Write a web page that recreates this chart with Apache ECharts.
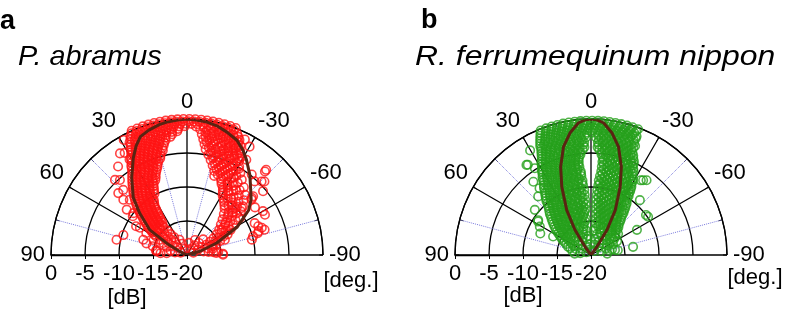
<!doctype html>
<html lang="en">
  <head>
    <meta charset="UTF-8" />
    <title>Beam patterns</title>
    <script src="https://cdn.jsdelivr.net/npm/echarts@6/dist/echarts.min.js"></script>
    <style>
      html, body { margin: 0; padding: 0; background: #fff; }
      #chart { width: 786px; height: 314px; }
    </style>
  </head>
  <body>
    <div id="chart"></div>
    <script>
      // Axis values
      var dbTicks = [-20, -15, -10, -5, 0];
      var angleTicks = [90, 60, 30, 0, -30, -60, -90];

      // Panel a, P. abramus: [dB, angle] with angle positive to the left
      // rows of points: [dB, [angles...]]
      var abramusRows = [
        [0.6, [16, 13.5, 11, 8.5, 6, 3.5, 1, -1.5, -4, -6.5, -9, -11.5, -14]],
        [0.3, [22, 19.5, 17, 14.5, 12, 9.5, 7, 4.5, 2, -0.5, -3, -5.5, -8, -10.5, -13, -15.5, -18]],
        [0.0, [24, 21.5, 19, 16.5, 14, 11.5, 9, 6.5, 4, 1.5, -1, -3.5, -6, -8.5, -11, -13.5, -16, -18.5, -21]],
        [-0.35, [24.5, 22, 19.5, 17, 14.5, 12, 9.5, 7, 4.5, 2, -0.5, -3, -5.5, -8, -10.5, -13, -15.5, -18, -20.5]],
        [-0.7, [25.5, 23, 20.5, 18, 15.5, 13, 10.5, 8, 5.5, 3, 0.5, -2, -4.5, -7, -9.5, -12, -14.5, -17, -19.5, -22.5]],
        [-1.05, [26, 23.5, 21, 18.5, 16, 13.5, 11, 8.5, 6, 3.5, 1, -4, -7.5, -10.5, -13.5, -16, -18.5, -21, -23.5]],
        [-1.4, [27, 24.5, 22, 19.5, 17, 14.5, 12, 9.5, 7, 4, -6, -9, -12, -14.5, -17, -19.5, -22, -24.5]],
        [-1.75, [27, 24.5, 22, 19.5, 17, 14.5, 12, 9.5, 7, 4.5, -8.5, -11.5, -14.5, -17, -19.5, -22, -24.5]],
        [-2.1, [27.5, 25, 22.5, 20, 17.5, 15, 12.5, 10, 7, -7, -10, -13, -16, -18.5, -21, -23.5, -26]],
        [-2.45, [28, 25.5, 23, 20.5, 18, 15.5, 13, 10.5, 8, -9, -12, -15, -18, -20.5, -23, -25.5]],
        [-2.8, [28.5, 26, 23.5, 21, 18.5, 16, 13.5, 10.5, -8, -11, -14, -17, -19.5, -22, -24.5, -27]],
        [-3.15, [29, 26.5, 24, 21.5, 19, 16.5, 14, 11.5, -10, -13.5, -17.5, -21, -24, -27]],
        [-3.5, [30, 27.5, 25, 22.5, 20, 17.5, 15, 12, -9, -12.5, -16, -19, -21.5, -24, -26.5, -29]],
        [-3.85, [30.5, 28, 25.5, 23, 20.5, 18, 15.5, 13, -11.5, -15, -18.5, -22, -25.5, -28.5]],
        [-4.2, [31, 28.5, 26, 23.5, 21, 18.5, 16, 13, -10, -13.5, -17, -20, -23, -26, -29]],
        [-4.55, [32, 29.5, 27, 24.5, 22, 19.5, 17, 14.5, -13, -16.5, -20, -24, -28]],
        [-4.9, [32.5, 30, 27.5, 25, 22.5, 20, 17.5, 15, -12, -15, -18, -21, -24, -27, -30.5]],
        [-5.25, [33, 30.5, 28, 25.5, 23, 20.5, 18, 15.5, -15, -19, -23, -27, -31]],
        [-5.6, [34, 31, 28, 25.5, 23, 20, 17, -14, -18, -22, -26, -30, -33]],
        [-5.95, [35, 32, 29, 26.5, 24, 21, 18, -17, -21, -25, -29]],
        [-6.3, [36, 33, 30, 27, 24, 21, 18.5, -16, -20, -24, -28, -32, -36]],
        [-6.65, [37, 34, 31, 28, 25, 22, 19.5, -19, -23, -27, -31]],
        [-7.0, [38, 35, 32, 29, 26, 23, 20.5, -18, -22, -26, -30, -35, -40]],
        [-7.35, [39, 36, 33, 30, 27, 24, 21.5, -21, -25, -32]],
        [-7.7, [40, 36.5, 33, 30, 27, 24, 22, -19, -24, -29, -34, -39, -44]],
        [-8.05, [41, 37.5, 34, 31, 28, 25, 23, -25, -30, -37]],
        [-8.4, [42, 38.5, 35, 32, 28.5, 25, -26, -31, -36, -41, -46]],
        [-8.75, [43, 39.5, 36, 33, 29.5, 26, -28, -33]],
        [-9.1, [44, 40.5, 37, 33.5, 30, 26.5, -29, -34, -39, -44, -49]],
        [-9.45, [45, 41.5, 38, 34.5, 31, 27.5, -30, -38]],
        [-9.8, [46, 42, 38.5, 35, 31.5, 28, -31, -36, -41, -46, -51]],
        [-10.15, [47, 43, 39, 35, 31.5, -33, -42]],
        [-10.5, [47.5, 43.5, 39.5, 35.5, 31, -35, -40, -45, -50, -55]],
        [-10.85, [48.5, 44.5, 40.5, 36.5, 32, -37, -47]],
        [-11.2, [49, 45, 41, 37, 33, -39, -44, -49, -54]],
        [-11.55, [50, 46, 42, 38, 34]],
        [-11.9, [51, 47, 43, 38.5, 34, -42, -47, -52, -57]],
        [-12.25, [52, 48, 43.5, 39, 35]],
        [-12.6, [53, 48.5, 44, 39.5, 35, -45, -50, -55, -60]],
        [-12.95, [54, 49.5, 45, 40, 36]],
        [-13.3, [55, 50, 45, 40, 36, -48, -53, -58, -63]],
        [-13.65, [56, 51, 46, 41, 37]],
        [-14.0, [57, 52, 47, 42, 37, -52, -57, -63, -68]],
        [-14.35, [58, 52, 46, 40]],
        [-14.7, [59, 52.5, 46, 40, -55, -61, -67, -88]],
        [-15.4, [82, 61, 53, 46, 39, -58, -64, -70, -85]],
        [-16.1, [86, 63, 54, 46, 38, -60, -68, -76, -84]],
        [-16.8, [68, 57, 46, 36, -62, -72, -82]],
        [-17.5, [75, 58, 42, 26, -28, -45, -62, -78]],
        [-18.2, [78, 52, 24, -8, -38, -64]],
        [-19.0, [70, 20, -30, -70]]
      ];
      // scattered single points: [dB, angle]
      var abramusSingles = [
        [-2.1, 33.4], [-3.5, 37.9], [-5.2, 41.8], [-6.6, 44.4], [-10.2, 72.6], [-8.3, 46],
        [-10, 52], [-12, 60], [-13.8, 74], [-15.5, 80.6], [-14.6, 66], [-4.7, 43.8],
        [-6.4, 48], [-7.6, 49], [-8.9, 53], [-9.4, 77.8], [-3.6, 31], [-2.4, 31.4],
        [-0.7, 28.8], [-10.2, 54.4], [-11.4, 60.5], [-13.2, 61.6], [-13.2, 70.8],
        [-14.8, 75.7], [-15.5, 83], [-17, 85],
        [-4.8, -38.8], [-3.2, -43], [-4.6, -45.4], [-5.4, -50], [-7.3, -48.6], [-7.8, -55],
        [-7.1, -62.7], [-8.3, -70], [-8.9, -71.6], [-9, -64.8], [-10.2, -76.7], [-9.4, -49.3],
        [-10.1, -45.6], [-11.5, -45.7], [-12.8, -51.4], [-13.7, -53.8], [-2.9, -42.9],
        [-4.3, -46.5], [-7.1, -60], [-8.7, -68], [-8, -72], [-9.1, -72.8], [-9.9, -74.2],
        [-7.5, -49.3], [-5.3, -42.6], [-7, -48.4], [-3.5, -31.9], [-1.6, -30], [-1, -26.6],
        [-14.7, -89.5], [-15.7, -86], [-16, -71.6], [-16.7, -46]
      ];
      // fitted beam pattern
      var abramusFit = [
        [-20, 70], [-18.6, 64], [-16.6, 60], [-13.4, 56], [-10.7, 48.5], [-8.4, 43],
        [-6.0, 35.5], [-3.7, 29], [-2.3, 25], [-1.3, 21.5], [-0.8, 17], [-0.4, 12],
        [-0.2, 8], [-0.1, 4], [0, 0], [-0.1, -4], [-0.2, -8], [-0.5, -13], [-1.0, -18],
        [-1.6, -23.5], [-2.5, -28], [-3.5, -32], [-5.0, -38], [-6.3, -43], [-7.5, -49],
        [-8.8, -54], [-11.6, -61], [-15.3, -68], [-18, -74], [-20, -80]
      ];

      // Panel b, R. ferrumequinum nippon
      var nipponRows = [
        [1.3, [20.5, 18, -17.5, -20]],
        [1.0, [20, 17.5, 15, -15, -17.5, -20]],
        [0.7, [21, 18.5, 16, 13.5, 11, -11, -13.5, -16, -18.5, -20.5]],
        [0.4, [20, 17.5, 15, 12.5, 10, 7.5, 5, 2.5, 0, -2.5, -5, -7.5, -10, -12.5, -15, -17.5, -20]],
        [0.1, [21.5, 19, 16.5, 14, 11.5, 9, 6.5, 4, 1.5, -1, -3.5, -6, -8.5, -11, -13.5, -16, -18.5, -21]],
        [-0.25, [22, 19.5, 17, 14.5, 12, 9.5, 7, 4.5, 2, -0.5, -3, -5.5, -8, -10.5, -13, -15.5, -18, -20.5]],
        [-0.6, [22.5, 20, 17.5, 15, 12.5, 10, 7.5, 5, 2.5, 0, -2.5, -5, -7.5, -10, -12.5, -15, -17.5, -20]],
        [-0.95, [23, 20.5, 18, 15.5, 13, 10.5, 8, 5.5, 3, 0.5, -2, -4.5, -7, -9.5, -12, -14.5, -17, -19.5]],
        [-1.3, [23.5, 21, 18.5, 16, 13.5, 11, 8.5, 6, 3.5, 1, -1.5, -4, -6.5, -9, -11.5, -14, -16.5, -19, -21]],
        [-1.65, [24, 21.5, 19, 16.5, 14, 11.5, 9, 6.5, 4, 1.5, -1, -3.5, -6, -8.5, -11, -13.5, -16, -18.5, -21]],
        [-2.0, [24.5, 22, 19.5, 17, 14.5, 12, 9.5, 7, 4.5, 2, -0.5, -3, -5.5, -8, -10.5, -13, -15.5, -18, -20.5]],
        [-2.35, [25, 23, 20.5, 18, 15.5, 13, 10.5, 8, 5.5, 3, -3.5, -6, -8.5, -11, -13.5, -16, -18.5, -21]],
        [-2.7, [25, 22.5, 20, 17.5, 15, 12.5, 10, 7.5, 5, 2.5, -2.5, -5, -7.5, -10, -12.5, -15, -17.5, -20, -22]],
        [-3.05, [25.5, 23, 20.5, 18, 15.5, 13, 10, 7, 4.5, -4, -6.5, -9, -11.5, -14, -16.5, -19, -21.5]],
        [-3.4, [26, 23.5, 21, 18.5, 16, 13.5, 11, 8.5, 6, 3.5, -3.5, -6, -8.5, -11, -13.5, -16, -18.5, -21]],
        [-3.75, [26.5, 24, 21.5, 19, 16.5, 14, 11.5, 9, 6.5, 4, -4, -7, -9.5, -12, -14.5, -17, -19.5, -22]],
        [-4.1, [27, 24.5, 22, 19, 16.5, 14, 11, 8.5, 6, 3.5, -3.5, -6, -8.5, -11, -14, -16.5, -19, -21.5, -23]],
        [-4.45, [28, 25.5, 23, 20.5, 18, 15, 12.5, 9.5, 7, 4.5, -4.5, -7.5, -10, -12.5, -15, -18, -21, -23.5]],
        [-4.8, [28.5, 26, 23, 20, 17, 14, 11.5, 9, 6, -6, -9, -11.5, -14, -17, -20, -22.5, -24.5]],
        [-5.15, [29, 26.5, 23.5, 20.5, 17.5, 14.5, 11.5, 8.5, 6, -6, -8.5, -11.5, -14.5, -17.5, -20.5, -23.5, -25]],
        [-5.5, [30, 27, 24, 21, 18, 15, 12, 9, 7, -7, -10, -13, -16, -19, -22, -25]],
        [-5.85, [30.5, 27.5, 24.5, 21.5, 18.5, 15.5, 12.5, 9.5, 7.5, -7.5, -11.5, -14.5, -17.5, -20.5, -23.5, -26]],
        [-6.2, [31, 28, 25, 22, 19, 16, 13, 10, 7.5, -7, -10, -13, -16, -19, -22, -25, -27]],
        [-6.55, [32, 29, 25.5, 22.5, 19.5, 16, 13, 10, 8, -8, -11.5, -14.5, -18, -21, -24, -27]],
        [-6.9, [32.5, 29.5, 26, 23, 19.5, 16.5, 13, 10, 7.5, -7, -10.5, -14, -17, -20.5, -24, -27.5]],
        [-7.25, [33, 30, 26.5, 23, 19.5, 16, 12.5, 9, -8.5, -12, -15.5, -19, -22.5, -26, -29]],
        [-7.6, [34, 30.5, 27, 23.5, 20, 16.5, 13, 10, 7, -7, -10.5, -14, -17.5, -21, -24.5, -28, -29.5]],
        [-7.95, [35, 31.5, 27.5, 24, 20.5, 17, 13.5, 10, 7, -8, -12, -15.5, -19, -22.5, -26, -29.5]],
        [-8.3, [35.5, 32, 28, 24.5, 21, 17.5, 14, 10.5, 7, -6.5, -10, -13.5, -17.5, -21, -24.5, -28, -30.5]],
        [-8.65, [36.5, 32.5, 28.5, 24.5, 21, 17, 13, 9, -8, -12, -16, -20, -24, -28, -31]],
        [-9.0, [37.5, 33.5, 29.5, 25.5, 22, 18, 14, 10, 6.5, -6, -10, -14, -18, -22, -26, -30, -31.5]],
        [-9.35, [38.5, 34.5, 30, 26, 22, 18, 14, 10, 7, -7, -11, -15, -19.5, -24, -28, -31.5]],
        [-9.7, [39.5, 35.5, 31, 27, 23, 19, 15, 11, 6.5, -6, -10, -14, -18, -22, -26, -30, -32.5]],
        [-10.05, [40, 36, 31.5, 27, 22.5, 18, 13.5, 9, -8, -12, -16.5, -21, -25.5, -30, -32.5]],
        [-10.4, [41, 37, 32.5, 28, 23.5, 19, 14.5, 10, 6, -5.5, -10, -14.5, -19, -23.5, -28, -33]],
        [-10.75, [42, 37.5, 33, 28, 23, 18, 13, 8.5, -7.5, -12.5, -17.5, -22, -27, -32, -34.5]],
        [-11.1, [43.5, 39, 34, 29, 24, 19.5, 15, 10, 6, -5.5, -10, -15, -20, -25, -30, -35]],
        [-11.45, [45, 40, 35, 30, 25, 20, 15, 9, -7.5, -12.5, -18, -23, -28, -33, -36]],
        [-11.8, [46, 41, 36, 31, 26, 21, 16, 11, 6, -5.5, -10.5, -15.5, -21, -26, -31, -36.5]],
        [-12.15, [47.5, 42, 36.5, 31, 25.5, 20, 14, 8.5, -8, -13, -19, -24.5, -30, -35, -37.5]],
        [-12.5, [49, 43.5, 38, 32.5, 27, 21.5, 16, 11, 6, -6, -11, -16.5, -22, -27.5, -33, -38]],
        [-12.85, [50.5, 44.5, 38.5, 32.5, 26.5, 20.5, 14, 9, -9, -14.5, -20.5, -26.5, -32.5, -38.5]],
        [-13.2, [52, 46, 40, 34, 28, 22, 16, 11, 6.5, -6.5, -12, -18, -24, -30, -35, -40]],
        [-13.55, [53.5, 47, 40.5, 34, 27.5, 21, 14, 8.5, -9.5, -16, -22.5, -29, -35.5, -41]],
        [-13.9, [55, 48.5, 42, 35.5, 29, 22.5, 16, 10, -7, -13, -19.5, -26, -32.5, -38, -42]],
        [-14.25, [56.5, 49.5, 42, 34.5, 27, 19.5, 12, -11, -18, -25, -32, -39.5, -44.5]],
        [-14.6, [58, 51, 43.5, 36, 29, 22, 15, 8, -8, -15, -22, -29, -36, -43, -46]],
        [-14.95, [60, 52, 43, 34, 25, 17, 10, -12, -20, -28, -37, -45, -52]],
        [-15.3, [62, 54, 45.5, 37, 29, 21, 13, -9, -17, -25, -33, -41, -50]],
        [-15.65, [64, 55, 45, 35, 25, 15, -14, -24, -34, -44, -54, -62]],
        [-16.0, [66, 56, 46, 36, 26, 16, -10, -20, -30, -40, -50, -56, -80]],
        [-16.4, [70, 58, 45, 32, 20, 10, -6, -22, -36, -50, -64, -78]],
        [-16.8, [72, 60, 47, 34, 20, -16, -30, -44, -58, -75]],
        [-17.2, [78, 62, 44, 26, 8, -22, -40, -58, -76]],
        [-17.6, [85, 68, 50, 32, 14, -12, -30, -48, -66, -85]],
        [-18.4, [80, 55, 30, 5, -20, -45, -70]],
        [-19.2, [60, 10, -40]]
      ];
      var nipponSingles = [
        [0.7, 3], [-2.2, 30.2], [-3.7, 35.6], [-4.8, 32.9], [-6.3, 38.2], [-8.4, 42],
        [-9.4, 51.2], [-10.8, 57.7], [-11.9, 67], [-13.8, 64], [-3.8, 35], [-7.6, 37.6],
        [-10.7, 56.6], [-11.4, 61], [-6.6, -34.9], [-6.3, -36.6], [-9.9, -56.2],
        [-9.2, -41.7], [-13.7, -79], [-12.3, -61.3], [-10, -54], [-6.8, -33.7]
      ];
      var nipponFit = [
        [-20, 40], [-18.5, 36], [-15.6, 32.6], [-12.5, 28.4], [-9.1, 23.2], [-6.3, 19],
        [-3.6, 14.3], [-1.8, 9.8], [-0.5, 5.5], [-0.1, 2.5], [0, 0], [-0.1, -2.5],
        [-0.5, -5.5], [-1.8, -9.8], [-3.6, -14.3], [-6.3, -19], [-9.1, -23.2],
        [-12.5, -28.4], [-15.6, -32.6], [-18.5, -36], [-20, -40]
      ];

      var FONT = '"Liberation Sans", Arial, sans-serif';
      var centers = [[187, 255], [591, 255]];

      // the angle axis runs from the left (startAngle 180) to the right,
      // so the plotted angle is the negated reading and labels are flipped back
      function flip(p) { return [p[0], -p[1]]; }
      function points(rows, singles) {
        var out = [];
        rows.forEach(function (r) {
          r[1].forEach(function (a) { out.push([r[0], -a]); });
        });
        return out.concat(singles.map(flip));
      }

      function angleAxis(i) {
        return {
          polarIndex: i,
          type: 'value',
          min: -angleTicks[0],
          max: angleTicks[0],
          interval: 30,
          startAngle: 180,
          endAngle: 0,
          axisLine: { lineStyle: { color: '#000', width: 1.3 } },
          axisTick: { show: true, inside: true, length: 4, lineStyle: { color: '#000' } },
          minorTick: { show: true, splitNumber: 2, length: 4, lineStyle: { color: '#000' } },
          splitLine: { show: true, lineStyle: { color: '#000', width: 1.3 } },
          minorSplitLine: { show: true, lineStyle: { color: '#7b7bdc', type: 'dotted', width: 1 } },
          axisLabel: {
            margin: 6,
            color: '#000',
            fontSize: 22,
            fontFamily: FONT,
            formatter: function (v) { return String(-v); }
          }
        };
      }
      function radiusAxis(i) {
        return {
          polarIndex: i,
          type: 'value',
          min: dbTicks[0],
          max: dbTicks[dbTicks.length - 1],
          interval: 5,
          axisLine: { lineStyle: { color: '#000', width: 1.3 } },
          axisTick: { show: true, length: 4, lineStyle: { color: '#000' } },
          splitLine: { show: true, lineStyle: { color: '#000', width: 1.3 } },
          axisLabel: { margin: 8, color: '#000', fontSize: 22, fontFamily: FONT }
        };
      }
      function scatter(i, data, color) {
        return {
          type: 'scatter',
          coordinateSystem: 'polar',
          polarIndex: i,
          symbol: 'circle',
          symbolSize: 8.5,
          data: data,
          itemStyle: { color: 'rgba(0,0,0,0)', borderColor: color, borderWidth: 1.6 },
          z: 2
        };
      }
      function fit(i, data) {
        return {
          type: 'line',
          coordinateSystem: 'polar',
          polarIndex: i,
          data: data.map(flip),
          showSymbol: false,
          lineStyle: { color: '#5a2412', width: 3 },
          z: 3
        };
      }
      function label(x, y, text, size, extra) {
        extra = extra || {};
        return {
          type: 'text',
          silent: true,
          x: x,
          y: y,
          scaleX: extra.scaleX || 1,
          style: {
            x: 0, y: 0, text: text, fill: '#000',
            font: (extra.font ? extra.font + ' ' : '') + size + 'px ' + FONT,
            align: extra.align || 'left',
            verticalAlign: 'middle'
          }
        };
      }

      var chart = echarts.init(document.getElementById('chart'));
      chart.setOption({
        animation: false,
        polar: centers.map(function (c) { return { center: c, radius: 136 }; }),
        angleAxis: [angleAxis(0), angleAxis(1)],
        radiusAxis: [radiusAxis(0), radiusAxis(1)],
        graphic: [
          label(0, 22, 'a', 27, { font: 'bold' }),
          label(421, 21, 'b', 27, { font: 'bold' }),
          label(18, 57, 'P. abramus', 28, { font: 'italic', scaleX: 1.03 }),
          label(415, 57, 'R. ferrumequinum nippon', 28, { font: 'italic', scaleX: 1.14 }),
          label(127, 298, '[dB]', 22, { align: 'center' }),
          label(351, 281, '[deg.]', 22, { align: 'center' }),
          label(523, 296, '[dB]', 22, { align: 'center' }),
          label(755, 278, '[deg.]', 22, { align: 'center' })
        ],
        series: [
          scatter(0, points(abramusRows, abramusSingles), '#ff1414'),
          fit(0, abramusFit),
          scatter(1, points(nipponRows, nipponSingles), '#25a01c'),
          fit(1, nipponFit)
        ]
      });
    </script>
  </body>
</html>
